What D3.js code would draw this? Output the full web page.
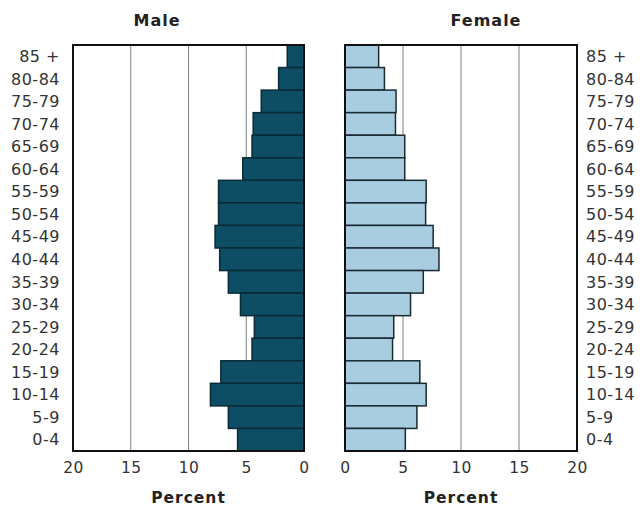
<!DOCTYPE html>
<html>
<head>
<meta charset="utf-8">
<script src="https://cdn.jsdelivr.net/npm/d3@7"></script>
<style>
  body { margin: 0; background: #fff; }
  text { font-family: "DejaVu Sans", Verdana, sans-serif; }
</style>
</head>
<body>
<div id="canvas"></div>
<script>
// age groups, top to bottom
var ageGroups = ["85 +", "80-84", "75-79", "70-74", "65-69", "60-64", "55-59", "50-54", "45-49",
  "40-44", "35-39", "30-34", "25-29", "20-24", "15-19", "10-14", "5-9", "0-4"];
var maleValues = [1.45, 2.2, 3.7, 4.4, 4.5, 5.3, 7.4, 7.4, 7.7,
  7.3, 6.55, 5.5, 4.3, 4.5, 7.2, 8.1, 6.55, 5.75];
var femaleValues = [2.9, 3.4, 4.4, 4.35, 5.15, 5.15, 7.0, 6.95, 7.6,
  8.1, 6.75, 5.65, 4.2, 4.1, 6.45, 7.0, 6.2, 5.2];
var tickValues = [0, 5, 10, 15, 20];

const width = 640;
const height = 509;

const svg = d3.select("#canvas")
  .append("svg")
  .attr("width", width)
  .attr("height", height);

const y = d3.scaleBand()
  .domain(ageGroups)
  .range([45, 451])
  .padding(0);

// male axis runs right to left
const xMale = d3.scaleLinear().domain([0, 20]).range([304, 73]);
const xFemale = d3.scaleLinear().domain([0, 20]).range([345, 577]);

function panel(x, values, fill, stroke) {
  const g = svg.append("g");
  // grid lines behind bars
  g.selectAll("line.grid")
    .data(tickValues.slice(1, 4))
    .enter()
    .append("line")
    .attr("x1", d => x(d)).attr("x2", d => x(d))
    .attr("y1", y.range()[0]).attr("y2", y.range()[1])
    .attr("stroke", "#808080")
    .attr("stroke-width", 1);

  g.selectAll("rect.bar")
    .data(values)
    .enter()
    .append("rect")
    .attr("x", d => Math.min(x(0), x(d)))
    .attr("y", (d, i) => y(ageGroups[i]))
    .attr("width", d => Math.abs(x(d) - x(0)))
    .attr("height", y.bandwidth())
    .attr("fill", fill)
    .attr("stroke", stroke)
    .attr("stroke-width", 1.5);

  // frame
  const x0 = Math.min(x(0), x(20)), x1 = Math.max(x(0), x(20));
  g.append("rect")
    .attr("x", x0).attr("y", y.range()[0])
    .attr("width", x1 - x0).attr("height", y.range()[1] - y.range()[0])
    .attr("fill", "none")
    .attr("stroke", "#111")
    .attr("stroke-width", 2);

  const axis = d3.axisBottom(x).tickValues(tickValues).tickSize(0).tickPadding(11);
  const ax = g.append("g")
    .attr("transform", "translate(0," + y.range()[1] + ")")
    .call(axis);
  ax.select(".domain").remove();
  ax.selectAll("text")
    .style("font-size", "15.5px")
    .style("font-family", "'DejaVu Sans', sans-serif")
    .style("letter-spacing", "0.5px")
    .attr("fill", "#333");

  g.append("text")
    .attr("x", (x0 + x1) / 2)
    .attr("y", 503)
    .attr("text-anchor", "middle")
    .style("font-size", "15.5px")
    .style("font-weight", "bold")
    .style("letter-spacing", "1px")
    .attr("fill", "#222")
    .text("Percent");
}

panel(xMale, maleValues, "#0e4e64", "#0a2a36");
panel(xFemale, femaleValues, "#a9cde0", "#1a2a33");

// age labels both sides
svg.selectAll("text.ageL")
  .data(ageGroups)
  .enter()
  .append("text")
  .attr("x", 60)
  .attr("y", d => y(d) + y.bandwidth() / 2)
  .attr("dy", "0.36em")
  .attr("text-anchor", "end")
  .style("font-size", "16px")
  .style("letter-spacing", "0.5px")
  .attr("fill", "#333")
  .text(d => d);

svg.selectAll("text.ageR")
  .data(ageGroups)
  .enter()
  .append("text")
  .attr("x", 586)
  .attr("y", d => y(d) + y.bandwidth() / 2)
  .attr("dy", "0.36em")
  .attr("text-anchor", "start")
  .style("font-size", "16px")
  .style("letter-spacing", "0.5px")
  .attr("fill", "#333")
  .text(d => d);

svg.append("text")
  .attr("x", 157).attr("y", 26)
  .attr("text-anchor", "middle")
  .style("font-size", "16px").style("font-weight", "bold")
  .style("letter-spacing", "1px")
  .attr("fill", "#222")
  .text("Male");

svg.append("text")
  .attr("x", 486).attr("y", 26)
  .attr("text-anchor", "middle")
  .style("font-size", "16px").style("font-weight", "bold")
  .style("letter-spacing", "1px")
  .attr("fill", "#222")
  .text("Female");
</script>
</body>
</html>
